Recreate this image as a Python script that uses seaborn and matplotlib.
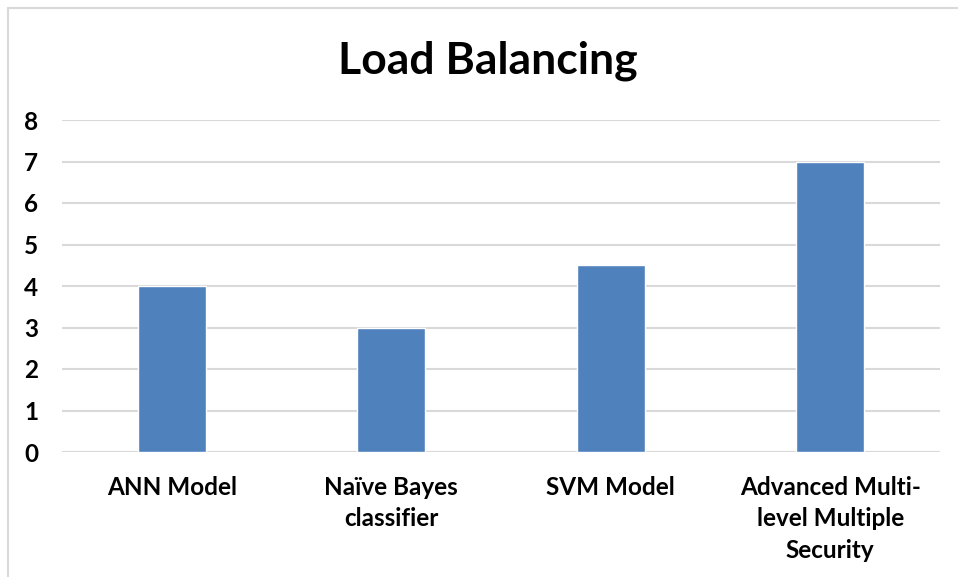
import matplotlib
matplotlib.use('Agg')
import matplotlib.pyplot as plt
import seaborn as sns
import pandas as pd
from matplotlib.lines import Line2D

categories = ['ANN Model', 'Naïve Bayes\nclassifier', 'SVM Model',
              'Advanced Multi-\nlevel Multiple\nSecurity']
values = [4, 3, 4.5, 7]
yticks = [0, 1, 2, 3, 4, 5, 6, 7, 8]

df = pd.DataFrame({'model': categories, 'value': values})

sns.set_style('white')
plt.rcParams['font.family'] = ['Lato', 'DejaVu Sans']
plt.rcParams['text.color'] = 'black'
plt.rcParams['xtick.color'] = 'black'
plt.rcParams['ytick.color'] = 'black'

fig = plt.figure(figsize=(9.58, 5.77), dpi=100)
ax = fig.add_axes([62/958, 1 - 452/577, (940 - 62)/958, (452 - 120)/577])

sns.barplot(data=df, x='model', y='value', color='#4F81BD', saturation=1,
            width=0.31, ax=ax, zorder=3)

ax.set_ylim(0, 8)
ax.set_xlim(-0.5, 3.5)
ax.set_yticks(yticks)
ax.yaxis.grid(True, color='#d9d9d9', linewidth=1.5, zorder=0)
ax.set_axisbelow(True)
for s in ax.spines.values():
    s.set_visible(False)
ax.axhline(0, color='#d9d9d9', linewidth=1.5, zorder=1)
ax.tick_params(axis='both', length=0, labelsize=17.5, labelcolor='black')
ax.tick_params(axis='y', pad=17)
ax.tick_params(axis='x', pad=17)
for lab in ax.get_xticklabels() + ax.get_yticklabels():
    lab.set_fontweight('bold')
for lab in ax.get_xticklabels():
    lab.set_linespacing(1.45)
ax.set_xlabel('')
ax.set_ylabel('')

fig.text(488/958, 1 - 61/577, 'Load Balancing', ha='center', va='center',
         fontsize=32, fontweight='bold', color='black')

# chart frame (partially cropped in the reference)
fig.add_artist(Line2D([8/958, 8/958], [0, 1 - 8/577], color='#d9d9d9',
                      linewidth=1.5, transform=fig.transFigure))
fig.add_artist(Line2D([8/958, 1], [1 - 8/577, 1 - 8/577], color='#d9d9d9',
                      linewidth=1.5, transform=fig.transFigure))

fig.savefig('out.png', dpi=100)
